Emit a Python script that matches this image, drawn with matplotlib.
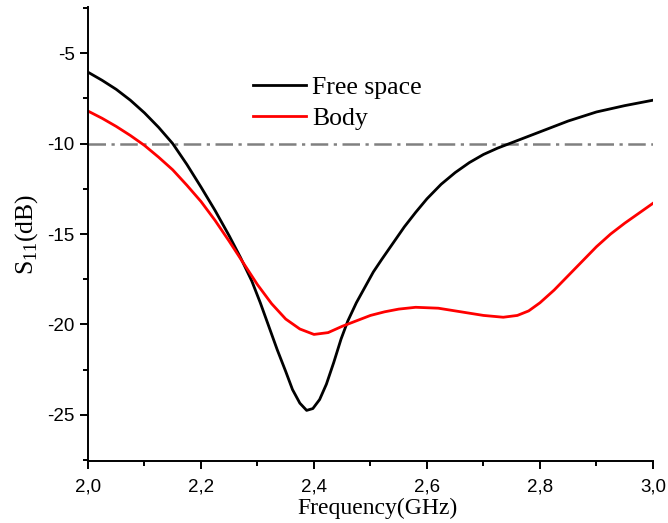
import numpy as np
import matplotlib.pyplot as plt
from matplotlib.ticker import MultipleLocator, FuncFormatter

# values (GHz, dB)
free_f = [2.000, 2.025, 2.050, 2.075, 2.100, 2.125, 2.150, 2.175, 2.200, 2.225, 2.250,
          2.270, 2.290, 2.305, 2.320, 2.335, 2.350, 2.362, 2.375, 2.387, 2.398, 2.410,
          2.422, 2.435, 2.448, 2.460, 2.475, 2.490, 2.505, 2.520, 2.540, 2.560, 2.580,
          2.600, 2.625, 2.650, 2.675, 2.700, 2.725, 2.750, 2.775, 2.800, 2.850, 2.900,
          2.950, 3.000]
free_s11 = [-6.05, -6.5, -7.0, -7.6, -8.3, -9.1, -10.0, -11.15, -12.4, -13.7, -15.1,
            -16.3, -17.6, -18.8, -20.1, -21.4, -22.6, -23.6, -24.35, -24.75, -24.65, -24.15,
            -23.3, -22.1, -20.8, -19.8, -18.8, -17.95, -17.1, -16.4, -15.5, -14.6, -13.8,
            -13.05, -12.25, -11.6, -11.05, -10.6, -10.25, -9.95, -9.65, -9.35, -8.75, -8.25,
            -7.9, -7.6]

body_f = [2.000, 2.025, 2.050, 2.075, 2.100, 2.125, 2.150, 2.175, 2.200, 2.225, 2.250,
          2.275, 2.300, 2.325, 2.350, 2.375, 2.400, 2.425, 2.450, 2.475, 2.500, 2.525,
          2.550, 2.580, 2.620, 2.660, 2.700, 2.735, 2.760, 2.780, 2.800, 2.825, 2.850,
          2.875, 2.900, 2.925, 2.950, 2.975, 3.000]
body_s11 = [-8.2, -8.6, -9.05, -9.55, -10.1, -10.75, -11.45, -12.3, -13.2, -14.25, -15.4,
            -16.6, -17.8, -18.85, -19.7, -20.25, -20.55, -20.45, -20.1, -19.8, -19.5, -19.3,
            -19.15, -19.05, -19.1, -19.3, -19.5, -19.6, -19.5, -19.25, -18.8, -18.1, -17.3,
            -16.5, -15.7, -15.0, -14.4, -13.85, -13.3]

ref_level = -10

plt.rcParams['font.family'] = 'Liberation Sans'
plt.rcParams['mathtext.fontset'] = 'custom'
plt.rcParams['mathtext.rm'] = 'Liberation Serif'

fig = plt.figure(figsize=(6.68, 5.23), dpi=100)
ax = fig.add_axes([0.1317, 0.1185, 0.8458, 0.868])

ax.plot([2.0, 3.0], [ref_level, ref_level], color='#808080', lw=1.8,
        linestyle=(0, (7, 2.2, 1.3, 2.2)))
ax.plot(free_f, free_s11, color='black', lw=2.0, label='Free space')
ax.plot(body_f, body_s11, color='#ff0000', lw=2.0, label='Body')

ax.set_xlim(2.0, 3.0)
ax.set_ylim(-27.55, -2.45)
ax.spines['top'].set_visible(False)
ax.spines['right'].set_visible(False)
for s in ['left', 'bottom']:
    ax.spines[s].set_linewidth(1.4)

ax.xaxis.set_major_locator(MultipleLocator(0.2))
ax.xaxis.set_minor_locator(MultipleLocator(0.1))
ax.yaxis.set_major_locator(MultipleLocator(5))
ax.yaxis.set_minor_locator(MultipleLocator(2.5))
ax.xaxis.set_major_formatter(FuncFormatter(lambda v, p: f'{v:.1f}'.replace('.', ',')))
ax.yaxis.set_major_formatter(FuncFormatter(lambda v, p: f'{v:.0f}'))
ax.tick_params(which='major', direction='out', length=6, width=1.4, labelsize=13.5)
ax.tick_params(axis='x', which='major', pad=6.5)
ax.tick_params(axis='y', which='major', pad=3.5)
ax.tick_params(which='minor', direction='out', length=3.5, width=1.4)

ax.set_xlabel('Frequency(GHz)', family='Liberation Serif', fontsize=17, labelpad=1.5)
ax.xaxis.label.set_x(0.512)
ax.set_ylabel('S$_{11}$(dB)', family='Liberation Serif', fontsize=18.5, labelpad=5)

leg = ax.legend(loc='upper left', bbox_to_anchor=(0.251, 0.9), frameon=False,
                prop={'family': 'Liberation Serif', 'size': 18.5},
                handlelength=2.05, handletextpad=0.25, labelspacing=0.32)

fig.savefig('out.png', dpi=100)
